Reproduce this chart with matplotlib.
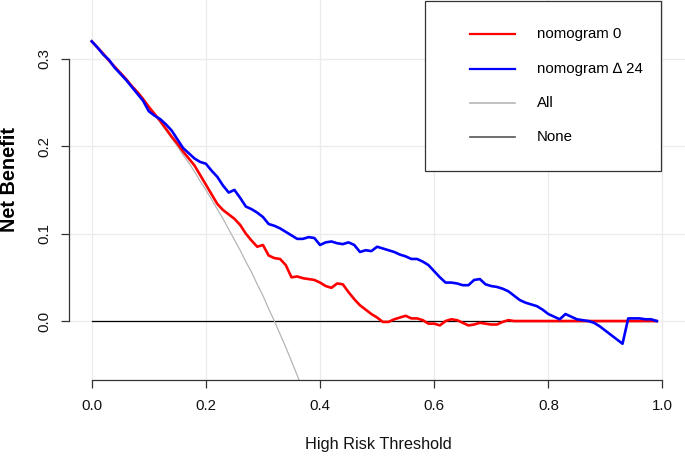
import numpy as np
import matplotlib
matplotlib.use("Agg")
import matplotlib.pyplot as plt
from matplotlib.patches import Rectangle
from matplotlib.lines import Line2D

plt.rcParams['font.family'] = ['Liberation Sans', 'DejaVu Sans']

# thresholds 0.00 .. 0.99
thresh = np.round(np.arange(100) * 0.01, 2)

nomo_0 = [0.320, 0.313, 0.306, 0.298, 0.291, 0.284, 0.277, 0.269, 0.262, 0.254,
          0.245, 0.237, 0.229, 0.220, 0.211, 0.203, 0.194, 0.186, 0.178, 0.167,
          0.156, 0.145, 0.134, 0.127, 0.122, 0.117, 0.110, 0.100, 0.092, 0.085,
          0.087, 0.075, 0.072, 0.071, 0.064, 0.050, 0.051, 0.049, 0.048, 0.047,
          0.044, 0.040, 0.038, 0.043, 0.042, 0.033, 0.025, 0.018, 0.013, 0.008,
          0.004, -0.001, -0.001, 0.002, 0.004, 0.006, 0.003, 0.003, 0.001, -0.003,
          -0.003, -0.005, 0.000, 0.002, 0.001, -0.002, -0.005, -0.004, -0.002, -0.003,
          -0.004, -0.004, -0.001, 0.001, 0.000, 0.000, 0.000, 0.000, 0.000, 0.000,
          0.000, 0.000, 0.000, 0.000, 0.000, 0.000, 0.000, 0.000, 0.000, 0.000,
          0.000, 0.000, 0.000, 0.000, 0.000, 0.000, 0.000, 0.000, 0.000, 0.000]

nomo_24 = [0.320, 0.313, 0.305, 0.299, 0.290, 0.283, 0.276, 0.268, 0.260, 0.252,
           0.240, 0.235, 0.231, 0.225, 0.218, 0.208, 0.198, 0.192, 0.186, 0.182,
           0.180, 0.172, 0.165, 0.155, 0.147, 0.150, 0.141, 0.131, 0.128, 0.124,
           0.119, 0.111, 0.109, 0.106, 0.102, 0.098, 0.094, 0.094, 0.096, 0.095,
           0.087, 0.090, 0.091, 0.089, 0.088, 0.090, 0.087, 0.079, 0.081, 0.080,
           0.085, 0.083, 0.081, 0.079, 0.076, 0.074, 0.071, 0.071, 0.068, 0.064,
           0.057, 0.050, 0.044, 0.044, 0.043, 0.041, 0.041, 0.047, 0.048, 0.042,
           0.040, 0.039, 0.037, 0.034, 0.029, 0.024, 0.021, 0.019, 0.017, 0.013,
           0.008, 0.005, 0.002, 0.008, 0.005, 0.002, 0.001, 0.000, -0.002, -0.006,
           -0.011, -0.016, -0.021, -0.026, 0.003, 0.003, 0.003, 0.002, 0.002, 0.000]

# treat-all curve, thresholds 0.00 .. 0.37
all_nb = [0.320, 0.313, 0.306, 0.299, 0.292, 0.284, 0.277, 0.269, 0.261, 0.253,
          0.244, 0.236, 0.227, 0.218, 0.209, 0.200, 0.190, 0.181, 0.171, 0.160,
          0.150, 0.139, 0.128, 0.117, 0.105, 0.093, 0.081, 0.068, 0.056, 0.042,
          0.029, 0.014, 0.000, -0.015, -0.030, -0.046, -0.062, -0.079]

labels = ['nomogram 0', 'nomogram \u2206 24', 'All', 'None']
colors = ['#ff0000', '#0000ff', '#b5b5b5', '#000000']

W, H = 685, 457
fig = plt.figure(figsize=(W / 100, H / 100), dpi=100)
ax = fig.add_axes([68.9 / W, (H - 379.5) / H, 616.4 / W, 379.5 / H])
ax.set_xlim(-0.04, 1.04)
ax.set_ylim(-0.0669, 0.3673)

# grid
for gx in [0, 0.2, 0.4, 0.6, 0.8, 1.0]:
    ax.axvline(gx, color='#ebebeb', lw=0.9, zorder=0)
for gy in [0, 0.1, 0.2, 0.3]:
    ax.axhline(gy, color='#ebebeb', lw=0.9, zorder=0)

ax.plot([0, 0.99], [0, 0], color=colors[3], lw=0.9, zorder=2)
ax.plot(thresh[:len(all_nb)], all_nb, color=colors[2], lw=0.9, zorder=2)
ax.plot(thresh, nomo_0, color=colors[0], lw=1.9, zorder=3)
ax.plot(thresh, nomo_24, color=colors[1], lw=1.9, zorder=4)

for s in ['top', 'right']:
    ax.spines[s].set_visible(False)
ax.spines['left'].set_bounds(0, 0.3)
ax.spines['bottom'].set_bounds(0, 1)
for s in ['left', 'bottom']:
    ax.spines[s].set_color('#333333')
    ax.spines[s].set_linewidth(0.9)

ax.set_xticks([0, 0.2, 0.4, 0.6, 0.8, 1.0])
ax.set_xticklabels(['0.0', '0.2', '0.4', '0.6', '0.8', '1.0'])
ax.set_yticks([0, 0.1, 0.2, 0.3])
ax.set_yticklabels(['0.0', '0.1', '0.2', '0.3'], rotation=90, va='center')
ax.tick_params(length=5.8, width=0.9, color='#333333', labelsize=10.8, labelcolor='#111111')
ax.tick_params(axis='x', pad=8)
ax.tick_params(axis='y', pad=7)

fig.text(378 / W, 1 - 444 / H, 'High Risk Threshold', ha='center', va='center', fontsize=11.7, color='#111111')
fig.text(10 / W, 1 - 180 / H, 'Net Benefit', ha='center', va='center', rotation=90,
         fontsize=14.3, fontweight='bold', color='#000000')

# legend box
fig.patches.append(Rectangle((425 / W, 1 - 170.7 / H), (661 - 425) / W, 170 / H,
                             transform=fig.transFigure, facecolor='white',
                             edgecolor='#333333', lw=0.9, zorder=5))
rows = [34.3, 69, 103.3, 136.7]
for lab, col, ry in zip(labels, colors, rows):
    lw = 1.6 if col in ('#ff0000', '#0000ff') else 1.2
    lc = '#555555' if col == '#000000' else col
    fig.add_artist(Line2D([470 / W, 515 / W], [1 - ry / H, 1 - ry / H],
                          transform=fig.transFigure, color=lc, lw=lw, zorder=6))
    fig.text(537 / W, 1 - ry / H, lab, ha='left', va='center', fontsize=10.8,
             color='#000000', zorder=6)

fig.savefig('out.png', dpi=100)
